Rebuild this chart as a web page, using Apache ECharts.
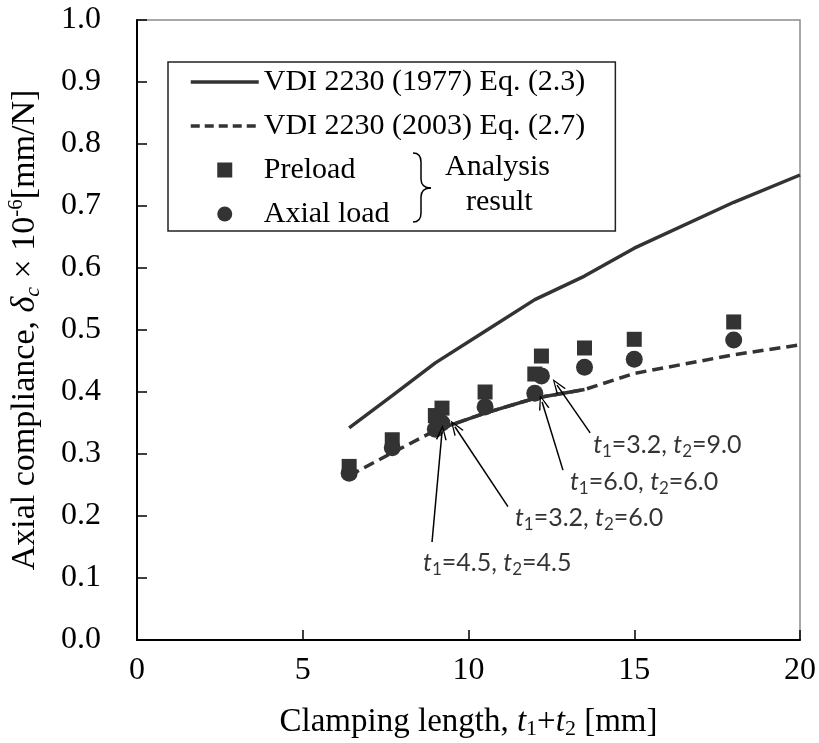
<!DOCTYPE html>
<html>
<head>
<meta charset="utf-8">
<script src="https://cdn.jsdelivr.net/npm/echarts@6/dist/echarts.min.js"></script>
<style>
  html, body { margin: 0; padding: 0; background: #fff; }
  #chart { width: 819px; height: 743px; }
</style>
</head>
<body>
<div id="chart"></div>
<script>
// analysis results, by clamping length t1+t2
const clampLen = [6.4, 7.7, 9.0, 9.2, 10.5, 12.0, 12.2, 13.5, 15.0, 18.0];
const preload = [0.28, 0.323, 0.362, 0.374, 0.40, 0.429, 0.458, 0.471, 0.485, 0.513];
const axialLoad = [0.269, 0.31, 0.34, 0.35, 0.376, 0.398, 0.426, 0.44, 0.453, 0.484];

// VDI 2230 equations
const eqLen = [6.4, 7.7, 9.0, 10.5, 12.0, 13.5, 15.0, 18.0, 20.0];
const vdi1977 = [0.342, 0.394, 0.447, 0.498, 0.549, 0.587, 0.632, 0.706, 0.75];
const vdi2003 = [0.265, 0.302, 0.338, 0.366, 0.39, 0.404, 0.43, 0.46, 0.476];

const xTicks = [0, 5, 10, 15, 20];
const yTicks = [0.0, 0.1, 0.2, 0.3, 0.4, 0.5, 0.6, 0.7, 0.8, 0.9, 1.0];

const names = ['VDI 2230 (1977) Eq. (2.3)', 'VDI 2230 (2003) Eq. (2.7)', 'Preload', 'Axial load'];

// annotation text t1/t2 pairs
const noteT = [['3.2', '9.0'], ['6.0', '6.0'], ['3.2', '6.0'], ['4.5', '4.5']];

const zip = (xs, ys) => xs.map((x, i) => [x, ys[i]]);

const serif = 'Liberation Serif';
const ink = '#333333';

// label positions and arrows, in data coords
const notes = [
  { at: [13.76, 0.315], from: [13.67, 0.334], to: [12.67, 0.411] },
  { at: [13.06, 0.255], from: [12.85, 0.274], to: [12.22, 0.384] },
  { at: [11.40, 0.197], from: [11.19, 0.215], to: [9.59, 0.344] },
  { at: [8.63, 0.124], from: [8.9, 0.158], to: [9.2, 0.335] }
];

const arrowHead = 'path://M5,0 L10,14 L8.6,14 L5,3 L1.4,14 L0,14 Z';

// curly brace next to the two analysis entries
const braceStyle = { stroke: '#000', lineWidth: 1.5, fill: 'none' };
const brace = [
  { type: 'bezierCurve', shape: { x1: 413, y1: 153, cpx1: 421, cpy1: 153, x2: 421, y2: 162 } },
  { type: 'line', shape: { x1: 421, y1: 162, x2: 421, y2: 179 } },
  { type: 'bezierCurve', shape: { x1: 421, y1: 179, cpx1: 421, cpy1: 188, x2: 431, y2: 188 } },
  { type: 'bezierCurve', shape: { x1: 431, y1: 188, cpx1: 421, cpy1: 188, x2: 421, y2: 197 } },
  { type: 'line', shape: { x1: 421, y1: 197, x2: 421, y2: 213 } },
  { type: 'bezierCurve', shape: { x1: 421, y1: 213, cpx1: 421, cpy1: 222, x2: 413, y2: 222 } }
].map(e => Object.assign(e, { z: 100, style: braceStyle }));

const chart = echarts.init(document.getElementById('chart'));

const option = {
  animation: false,
  backgroundColor: '#fff',
  grid: {
    left: 137, right: 19, top: 20, bottom: 103,
    outerBoundsMode: 'none', containLabel: false,
    show: true, borderColor: '#8c8c8c', borderWidth: 1.5
  },
  xAxis: {
    type: 'value', min: 0, max: 20, interval: 5,
    name: 'Clamping length, {i|t}{s|1}+{i|t}{s|2} [mm]',
    nameLocation: 'middle', nameGap: 64,
    nameTextStyle: {
      fontFamily: serif, fontSize: 33, color: '#000', lineHeight: 36,
      rich: {
        i: { fontFamily: serif, fontSize: 33, fontStyle: 'italic', color: '#000', lineHeight: 36 },
        s: { fontFamily: serif, fontSize: 22, color: '#000', lineHeight: 20, verticalAlign: 'bottom' }
      }
    },
    axisLine: { show: true, lineStyle: { color: '#000', width: 2 } },
    axisTick: { show: true, inside: true, length: 10, lineStyle: { color: '#000', width: 1.5 } },
    axisLabel: {
      margin: 15, fontFamily: serif, fontSize: 32, color: '#000',
      formatter: v => xTicks.includes(v) ? String(v) : ''
    },
    splitLine: { show: false }
  },
  yAxis: {
    type: 'value', min: 0, max: 1, interval: 0.1,
    name: 'Axial compliance, {i|δ}{c|c} × 10{p|-6}[mm/N]',
    nameLocation: 'middle', nameGap: 93, nameRotate: 90,
    nameTextStyle: {
      fontFamily: serif, fontSize: 34, color: '#000', lineHeight: 38,
      rich: {
        i: { fontFamily: serif, fontSize: 34, fontStyle: 'italic', color: '#000', lineHeight: 38 },
        c: { fontFamily: serif, fontSize: 22, fontStyle: 'italic', color: '#000', lineHeight: 20, verticalAlign: 'bottom' },
        p: { fontFamily: serif, fontSize: 21, color: '#000', lineHeight: 18, verticalAlign: 'top' }
      }
    },
    axisLine: { show: true, lineStyle: { color: '#000', width: 2 } },
    axisTick: { show: true, inside: true, length: 10, lineStyle: { color: '#000', width: 1.5 } },
    axisLabel: {
      margin: 36, fontFamily: serif, fontSize: 32, color: '#000', padding: [6, 0, 0, 0],
      formatter: v => yTicks.find(t => Math.abs(t - v) < 1e-6) !== undefined ? v.toFixed(1) : ''
    },
    splitLine: { show: false }
  },
  legend: {
    orient: 'vertical', left: 168, top: 62,
    padding: [5, 30, 2, 21],
    itemWidth: 68, itemHeight: 15, itemGap: 14,
    borderColor: '#222', borderWidth: 1.5,
    backgroundColor: '#fff',
    textStyle: { fontFamily: serif, fontSize: 30, color: '#000' },
    data: [
      { name: names[0], itemStyle: { opacity: 0 }, lineStyle: { width: 3.5 } },
      { name: names[1], itemStyle: { opacity: 0 }, lineStyle: { width: 3.5, type: [9, 5] } },
      { name: names[2], icon: 'path://M0,0 L10,0 L10,10 L0,10 Z' },
      { name: names[3], icon: 'path://M10,5 A5,5 0 1 1 0,5 A5,5 0 1 1 10,5 Z' }
    ],
    selectedMode: false
  },
  graphic: brace.concat([
    {
      type: 'text', z: 100, left: 445, top: 152,
      style: { text: 'Analysis', font: '30px "Liberation Serif"', fill: '#000' }
    },
    {
      type: 'text', z: 100, left: 466, top: 187,
      style: { text: 'result', font: '30px "Liberation Serif"', fill: '#000' }
    }
  ]),
  series: [
    {
      name: names[0], type: 'line', data: zip(eqLen, vdi1977),
      symbol: 'none',
      lineStyle: { color: ink, width: 3.5 }, itemStyle: { color: ink }
    },
    {
      name: names[1], type: 'line', data: zip(eqLen, vdi2003),
      symbol: 'none',
      lineStyle: { color: ink, width: 3.5, type: [11, 6] }, itemStyle: { color: ink }
    },
    {
      // solid stretch where the cases overlap the 2003 curve
      name: 'overlap', type: 'line', data: zip(eqLen.slice(2, 6), vdi2003.slice(2, 6)),
      symbol: 'none', silent: true,
      lineStyle: { color: ink, width: 3.5 }
    },
    {
      name: names[2], type: 'scatter', data: zip(clampLen, preload),
      symbol: 'rect', symbolSize: 15, itemStyle: { color: ink, opacity: 1 }, z: 3
    },
    {
      name: names[3], type: 'scatter', data: zip(clampLen, axialLoad),
      symbol: 'circle', symbolSize: 17, itemStyle: { color: ink, opacity: 1 }, z: 4
    },
    {
      name: 'notes', type: 'scatter', silent: true, z: 6,
      symbolSize: 0,
      data: notes.map(n => n.at),
      label: {
        show: true, position: 'right', distance: 0,
        formatter: p => {
          const t = noteT[p.dataIndex];
          return '{i|t}{s|1}=' + t[0] + ', {i|t}{s|2}=' + t[1];
        },
        fontFamily: 'Lato', fontSize: 25, color: '#000', lineHeight: 30,
        rich: {
          i: { fontFamily: 'Lato', fontSize: 25, fontStyle: 'italic', color: '#000', lineHeight: 30 },
          s: { fontFamily: 'Lato', fontSize: 17, color: '#000', lineHeight: 17, verticalAlign: 'bottom' }
        }
      },
      markLine: {
        silent: true, animation: false,
        symbol: ['none', arrowHead], symbolSize: [11, 15],
        label: { show: false },
        lineStyle: { color: '#000', width: 1.5, type: 'solid' },
        data: notes.map(n => [{ coord: n.from }, { coord: n.to }])
      }
    }
  ]
};

chart.setOption(option);
</script>
</body>
</html>
